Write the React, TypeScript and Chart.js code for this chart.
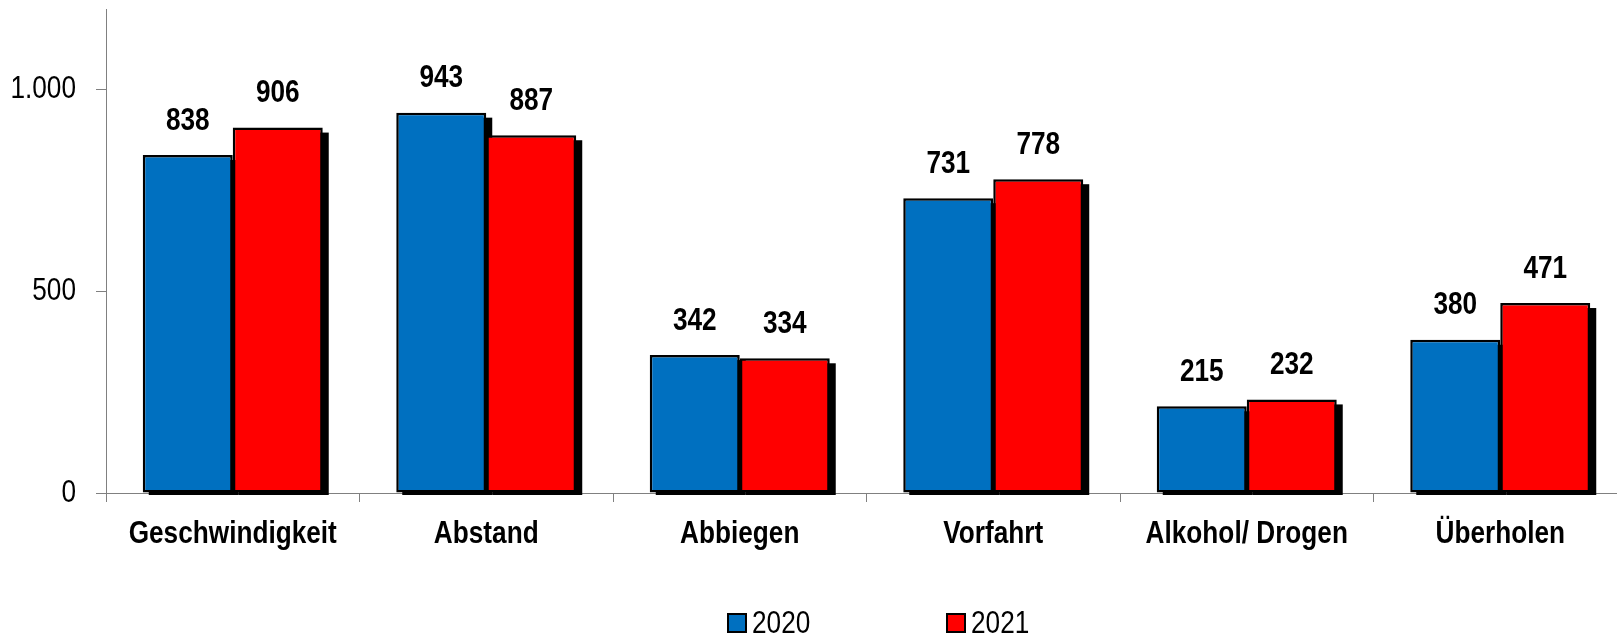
import React, { useEffect, useRef } from "react";
import { Chart, registerables } from "chart.js";

Chart.register(...registerables);

const categories = ["Geschwindigkeit", "Abstand", "Abbiegen", "Vorfahrt", "Alkohol/ Drogen", "Überholen"];
const series2020 = [838, 943, 342, 731, 215, 380];
const series2021 = [906, 887, 334, 778, 232, 471];
const seriesLabels = ["2020", "2021"];
const seriesColors = ["#0070C0", "#FF0000"];
const yTickValues = [0, 500, 1000];

const FONT = "'Liberation Sans', Arial, sans-serif";
const NARROW = 0.845; // horizontal condensing to imitate Arial Narrow
const FS = 31;

const fmt = (v: number) => String(v).replace(/\B(?=(\d{3})+(?!\d))/g, ".");

function condenseText(ctx: any) {
  if (ctx.__condensed) return;
  ctx.__condensed = true;
  const orig = ctx.fillText.bind(ctx);
  ctx.fillText = function (t: string, x: number, y: number, mw?: number) {
    ctx.save();
    ctx.translate(x, y);
    ctx.scale(NARROW, 1);
    if (mw === undefined) orig(t, 0, 0);
    else orig(t, 0, 0, mw / NARROW);
    ctx.restore();
  };
}

const shadowPlugin = {
  id: "barShadow",
  beforeDatasetsDraw(chart: any) {
    const ctx = chart.ctx;
    const area = chart.chartArea;
    ctx.save();
    ctx.beginPath();
    ctx.rect(area.left, area.top, area.right - area.left + 20, area.bottom - area.top + 2);
    ctx.clip();
    ctx.fillStyle = "#000000";
    chart.data.datasets.forEach((_: any, di: number) => {
      const meta = chart.getDatasetMeta(di);
      meta.data.forEach((el: any) => {
        const p = el.getProps(["x", "y", "base", "width"], true);
        ctx.fillRect(p.x - p.width / 2 + 6, p.y + 5, p.width, p.base - p.y);
      });
    });
    ctx.restore();
  },
};

const labelPlugin = {
  id: "valueLabels",
  afterDatasetsDraw(chart: any) {
    const ctx = chart.ctx;
    ctx.save();
    ctx.font = `bold ${FS}px ${FONT}`;
    ctx.fillStyle = "#000000";
    ctx.textAlign = "center";
    ctx.textBaseline = "middle";
    chart.data.datasets.forEach((ds: any, di: number) => {
      const meta = chart.getDatasetMeta(di);
      meta.data.forEach((el: any, i: number) => {
        const p = el.getProps(["x", "y"], true);
        ctx.fillText(fmt(ds.data[i]), p.x, p.y - 34);
      });
    });
    ctx.restore();
  },
};

const legendPlugin = {
  id: "customLegend",
  afterDraw(chart: any) {
    const ctx = chart.ctx;
    const xs = [728, 947];
    const y = 623;
    ctx.save();
    ctx.font = `${FS}px ${FONT}`;
    ctx.textBaseline = "middle";
    ctx.textAlign = "left";
    chart.data.datasets.forEach((ds: any, i: number) => {
      const x = xs[i];
      ctx.fillStyle = ds.backgroundColor;
      ctx.fillRect(x, y - 9, 18, 18);
      ctx.lineWidth = 2;
      ctx.strokeStyle = "#000000";
      ctx.strokeRect(x, y - 9, 18, 18);
      ctx.fillStyle = "#000000";
      ctx.fillText(ds.label, x + 24, y + 1);
    });
    ctx.restore();
  },
};

export default function App() {
  const ref = useRef<HTMLCanvasElement | null>(null);
  useEffect(() => {
    if (!ref.current) return;
    const ctx2d = ref.current.getContext("2d");
    condenseText(ctx2d);
    const chart = new Chart(ref.current, {
      type: "bar",
      data: {
        labels: categories,
        datasets: [
          {
            label: seriesLabels[0],
            data: series2020,
            backgroundColor: seriesColors[0],
            borderColor: "#000000",
            borderWidth: 2.5,
            borderSkipped: false,
          },
          {
            label: seriesLabels[1],
            data: series2021,
            backgroundColor: seriesColors[1],
            borderColor: "#000000",
            borderWidth: 2.5,
            borderSkipped: false,
          },
        ],
      },
      options: {
        animation: false,
        responsive: false,
        maintainAspectRatio: false,
        layout: { padding: { top: 9, left: 0, right: 0, bottom: 0 } },
        datasets: { bar: { categoryPercentage: 0.71, barPercentage: 1 } },
        plugins: { legend: { display: false }, tooltip: { enabled: false } },
        scales: {
          x: {
            grid: { drawOnChartArea: false, drawTicks: true, tickLength: 9, color: "#808080", offset: true },
            border: { color: "#808080", width: 1 },
            ticks: {
              color: "#000000",
              padding: 14,
              maxRotation: 0,
              autoSkip: false,
              font: { family: FONT, size: FS, weight: "bold" },
            },
            afterFit: (s: any) => {
              s.height = 143;
              s.paddingLeft = 0;
              s.paddingRight = 0;
            },
          },
          y: {
            min: 0,
            max: 1200,
            grid: { drawOnChartArea: false, drawTicks: true, tickLength: 10, color: "#808080" },
            border: { color: "#808080", width: 1 },
            ticks: {
              color: "#000000",
              padding: 20,
              stepSize: 500,
              font: { family: FONT, size: FS },
              callback: (v: any) => fmt(Number(v)),
            },
            afterBuildTicks: (s: any) => {
              s.ticks = yTickValues.map((v) => ({ value: v }));
            },
            afterFit: (s: any) => {
              s.width = 106;
              s.paddingTop = 0;
              s.paddingBottom = 0;
            },
          },
        },
      } as any,
      plugins: [shadowPlugin, labelPlugin, legendPlugin],
    });
    return () => chart.destroy();
  }, []);
  return (
    <div
      style={{
        position: "fixed",
        left: 0,
        top: 0,
        width: 1617,
        height: 636,
        overflow: "hidden",
        background: "#ffffff",
      }}
    >
      <canvas ref={ref} width={1627} height={636} style={{ display: "block" }} />
    </div>
  );
}
